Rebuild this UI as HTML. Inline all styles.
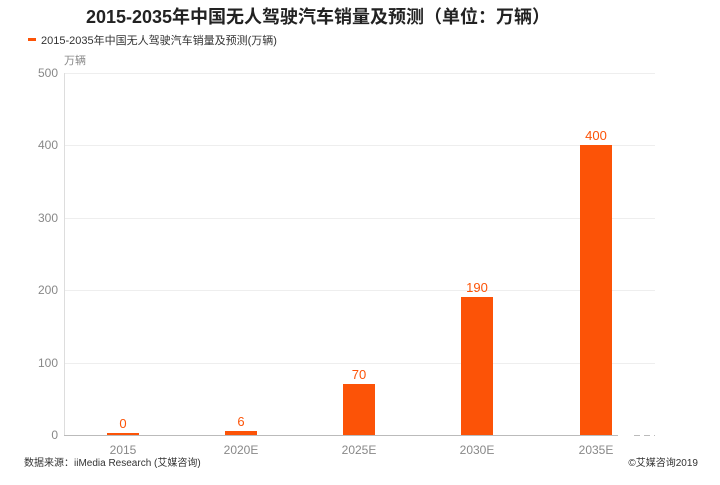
<!DOCTYPE html>
<html><head><meta charset="utf-8"><style>
body{margin:0;background:#fff;}
svg text{font-family:"Liberation Sans","Noto Sans CJK SC",sans-serif;}
</style></head><body>
<svg width="720" height="480" xmlns="http://www.w3.org/2000/svg">
<text x="318" y="23" text-anchor="middle" font-size="18" font-weight="bold" fill="#222">2015-2035年中国无人驾驶汽车销量及预测（单位：万辆）</text>
<rect x="28" y="38" width="8" height="3" fill="#fc5307"/>
<text x="41" y="44" font-size="11" fill="#333">2015-2035年中国无人驾驶汽车销量及预测(万辆)</text>
<text x="64" y="64" font-size="11" fill="#888">万辆</text>
<g stroke="#eee" stroke-width="1">
<line x1="64" y1="73.5" x2="655" y2="73.5"/>
<line x1="64" y1="145.5" x2="655" y2="145.5"/>
<line x1="64" y1="218.5" x2="655" y2="218.5"/>
<line x1="64" y1="290.5" x2="655" y2="290.5"/>
<line x1="64" y1="363.5" x2="655" y2="363.5"/>
</g>
<line x1="64.5" y1="73" x2="64.5" y2="435" stroke="#ddd"/>
<line x1="64" y1="435.5" x2="618" y2="435.5" stroke="#bbb"/>
<line x1="634" y1="435.5" x2="655" y2="435.5" stroke="#bbb" stroke-dasharray="6,4"/>
<g font-size="12" fill="#888" text-anchor="end">
<text x="58" y="77">500</text><text x="58" y="149">400</text><text x="58" y="222">300</text>
<text x="58" y="294">200</text><text x="58" y="367">100</text><text x="58" y="439">0</text>
</g>
<g fill="#fc5307">
<rect x="107" y="433" width="32" height="2"/>
<rect x="225" y="431" width="32" height="4"/>
<rect x="343" y="384" width="32" height="51"/>
<rect x="461" y="297" width="32" height="138"/>
<rect x="580" y="145" width="32" height="290"/>
</g>
<g font-size="13" fill="#fc5307" text-anchor="middle">
<text x="123" y="428">0</text><text x="241" y="426">6</text><text x="359" y="379">70</text>
<text x="477" y="292">190</text><text x="596" y="140">400</text>
</g>
<g font-size="12" fill="#888" text-anchor="middle">
<text x="123" y="454">2015</text><text x="241" y="454">2020E</text><text x="359" y="454">2025E</text>
<text x="477" y="454">2030E</text><text x="596" y="454">2035E</text>
</g>
<text x="24" y="466" font-size="10" fill="#333">数据来源：iiMedia Research (艾媒咨询)</text>
<text x="698" y="466" font-size="10" fill="#333" text-anchor="end">©艾媒咨询2019</text>
</svg>
</body></html>
